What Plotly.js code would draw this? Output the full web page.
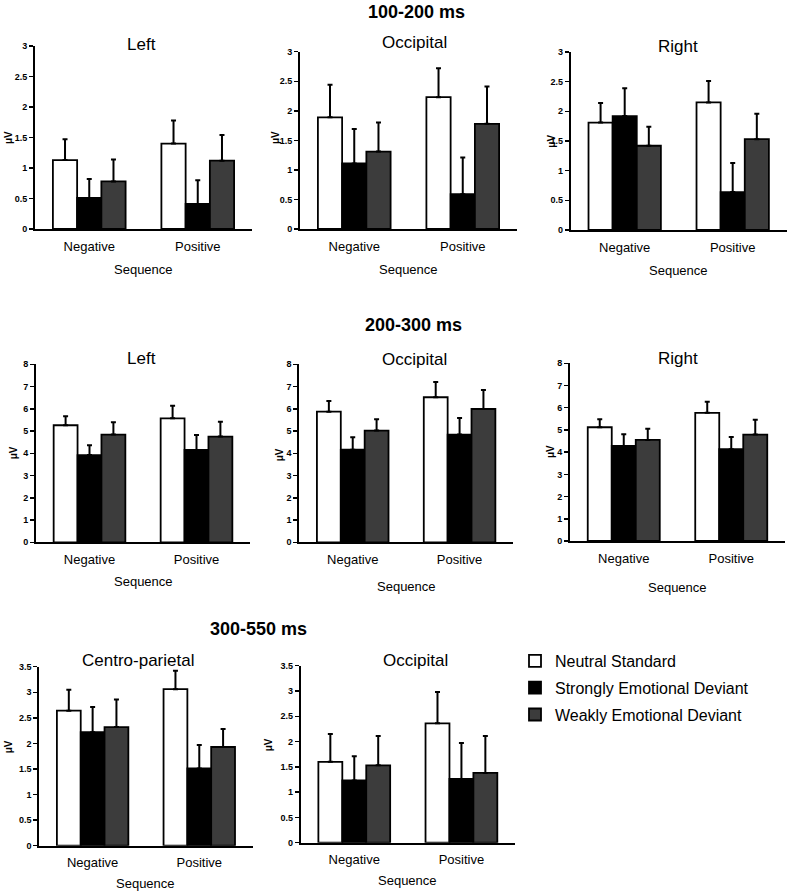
<!DOCTYPE html>
<html>
<head>
<meta charset="utf-8">
<script src="https://cdn.plot.ly/plotly-3.0.1.min.js"></script>
<style>
html,body{margin:0;padding:0;background:#fff;}
#chart{width:790px;height:894px;}
</style>
</head>
<body>
<div id="chart"></div>
<script>
// ---------- DATA ----------
const categories = ['Negative', 'Positive'];
const seriesNames = ['Neutral Standard', 'Strongly Emotional Deviant', 'Weakly Emotional Deviant'];
const sectionTitles = ['100-200 ms', '200-300 ms', '300-550 ms'];
const panelTitles = ['Left', 'Occipital', 'Right', 'Left', 'Occipital', 'Right', 'Centro-parietal', 'Occipital'];
const xAxisLabel = 'Sequence';
const yAxisLabel = 'μV';

// means: [Neutral, Strong, Weak] x [Negative, Positive]; errors: upper error bar length
const left100Means = [[1.13, 1.40], [0.51, 0.41], [0.78, 1.12]];
const left100Errors = [[0.34, 0.38], [0.31, 0.39], [0.36, 0.42]];
const occ100Means = [[1.89, 2.23], [1.11, 0.59], [1.31, 1.78]];
const occ100Errors = [[0.55, 0.49], [0.58, 0.62], [0.49, 0.63]];
const right100Means = [[1.81, 2.15], [1.92, 0.64], [1.42, 1.53]];
const right100Errors = [[0.33, 0.36], [0.47, 0.49], [0.32, 0.43]];

const left200Means = [[5.26, 5.57], [3.92, 4.15], [4.84, 4.75]];
const left200Errors = [[0.40, 0.57], [0.44, 0.67], [0.55, 0.67]];
const occ200Means = [[5.87, 6.52], [4.16, 4.84], [5.02, 5.99]];
const occ200Errors = [[0.48, 0.68], [0.56, 0.75], [0.51, 0.85]];
const right200Means = [[5.12, 5.77], [4.28, 4.13], [4.55, 4.79]];
const right200Errors = [[0.36, 0.50], [0.53, 0.55], [0.50, 0.67]];

const cp300Means = [[2.64, 3.06], [2.22, 1.51], [2.32, 1.93]];
const cp300Errors = [[0.41, 0.36], [0.49, 0.46], [0.54, 0.35]];
const occ300Means = [[1.60, 2.36], [1.23, 1.26], [1.53, 1.38]];
const occ300Errors = [[0.55, 0.62], [0.48, 0.71], [0.58, 0.73]];

const yMax = [3, 3, 3, 8, 8, 8, 3.5, 3.5];
const yStep = [0.5, 0.5, 0.5, 1, 1, 1, 0.5, 0.5];

// ---------- STYLE / LAYOUT CONFIG ----------
const W = 790, H = 894;
const FONT = 'Liberation Sans, Arial, Helvetica, sans-serif';
const seriesColors = ['#ffffff', '#000000', '#3c3c3c'];

const panelData = [
  [left100Means, left100Errors], [occ100Means, occ100Errors], [right100Means, right100Errors],
  [left200Means, left200Errors], [occ200Means, occ200Errors], [right200Means, right200Errors],
  [cp300Means, cp300Errors], [occ300Means, occ300Errors]
];
// plot boxes in px: [x0, x1, yTop, yBottom]
const boxes = [
  [35, 252, 46, 229], [300, 517, 51.7, 229], [570.7, 786.7, 52, 230],
  [36, 250, 364.3, 542.3], [299.3, 513, 364.3, 542.3], [570, 785, 363.3, 541],
  [39.3, 252.6, 666.7, 845.7], [300.7, 515, 665.7, 842.7]
];
const titlePos = [[141, 45], [414, 43], [678, 46.7], [141.5, 358], [414, 359], [678, 358], [138, 660], [415.5, 660]];
const seqY = [269, 269, 270, 581.7, 586, 587, 883, 880.7];
const muPos = [[8, 138], [275, 138], [551.7, 141], [13.3, 453], [279.3, 455], [550, 452], [8.3, 747], [268.3, 745]];
const sectionPos = [[416, 12], [413, 325], [258, 629]];

const traces = [];
const layout = {
  width: W, height: H,
  margin: {l: 0, r: 0, t: 0, b: 0},
  paper_bgcolor: '#fff', plot_bgcolor: 'rgba(0,0,0,0)',
  barmode: 'group', bargap: 0.33, bargroupgap: 0,
  font: {family: FONT, color: '#000'},
  showlegend: true,
  legend: {
    x: 515 / W, y: 1 - 644 / H, xanchor: 'left', yanchor: 'top',
    font: {family: FONT, size: 16, color: '#000'},
    tracegroupgap: 3, bgcolor: 'rgba(0,0,0,0)'
  },
  annotations: []
};

panelData.forEach((pd, i) => {
  const k = i === 0 ? '' : String(i + 1);
  const [means, errs] = pd;
  means.forEach((m, s) => {
    traces.push({
      type: 'bar', x: categories, y: m,
      xaxis: 'x' + k, yaxis: 'y' + k,
      name: seriesNames[s], legendgroup: 'g' + s, showlegend: i === 0,
      marker: {color: seriesColors[s], line: {color: '#000', width: 1.8}},
      error_y: {type: 'data', symmetric: false, array: errs[s], arrayminus: [0, 0],
                color: '#000', thickness: 2, width: 2.5},
      hoverinfo: 'skip'
    });
  });
  const b = boxes[i];
  layout['xaxis' + k] = {
    domain: [b[0] / W, b[1] / W], anchor: 'y' + k,
    showline: true, linecolor: '#000', linewidth: 2, ticks: '',
    showgrid: false, zeroline: false, fixedrange: true,
    tickfont: {family: FONT, size: 13, color: '#000'}, ticklabelstandoff: 4
  };
  layout['yaxis' + k] = {
    domain: [1 - b[3] / H, 1 - b[2] / H], anchor: 'x' + k,
    range: [0, yMax[i]], tick0: 0, dtick: yStep[i],
    showline: true, linecolor: '#000', linewidth: 2,
    ticks: 'outside', ticklen: 4, tickwidth: 1.5, tickcolor: '#000',
    showgrid: false, zeroline: false, fixedrange: true,
    tickfont: {family: FONT, size: 9, color: '#000', weight: 'bold'}
  };
  layout.annotations.push({
    text: panelTitles[i], xref: 'paper', yref: 'paper',
    x: titlePos[i][0] / W, y: 1 - titlePos[i][1] / H, xanchor: 'center', yanchor: 'middle',
    showarrow: false, font: {family: FONT, size: 17, color: '#000'}
  });
  layout.annotations.push({
    text: xAxisLabel, xref: 'paper', yref: 'paper',
    x: (b[0] + b[1]) / 2 / W, y: 1 - seqY[i] / H, xanchor: 'center', yanchor: 'middle',
    showarrow: false, font: {family: FONT, size: 13, color: '#000'}
  });
  layout.annotations.push({
    text: yAxisLabel, xref: 'paper', yref: 'paper', textangle: -90,
    x: muPos[i][0] / W, y: 1 - muPos[i][1] / H, xanchor: 'center', yanchor: 'middle',
    showarrow: false, font: {family: FONT, size: 10, color: '#000', weight: 'bold'}
  });
});

sectionTitles.forEach((t, j) => {
  layout.annotations.push({
    text: t, xref: 'paper', yref: 'paper',
    x: sectionPos[j][0] / W, y: 1 - sectionPos[j][1] / H, xanchor: 'center', yanchor: 'middle',
    showarrow: false, font: {family: FONT, size: 18, color: '#000', weight: 'bold'}
  });
});

Plotly.newPlot('chart', traces, layout, {displayModeBar: false, staticPlot: true});
</script>
</body>
</html>
